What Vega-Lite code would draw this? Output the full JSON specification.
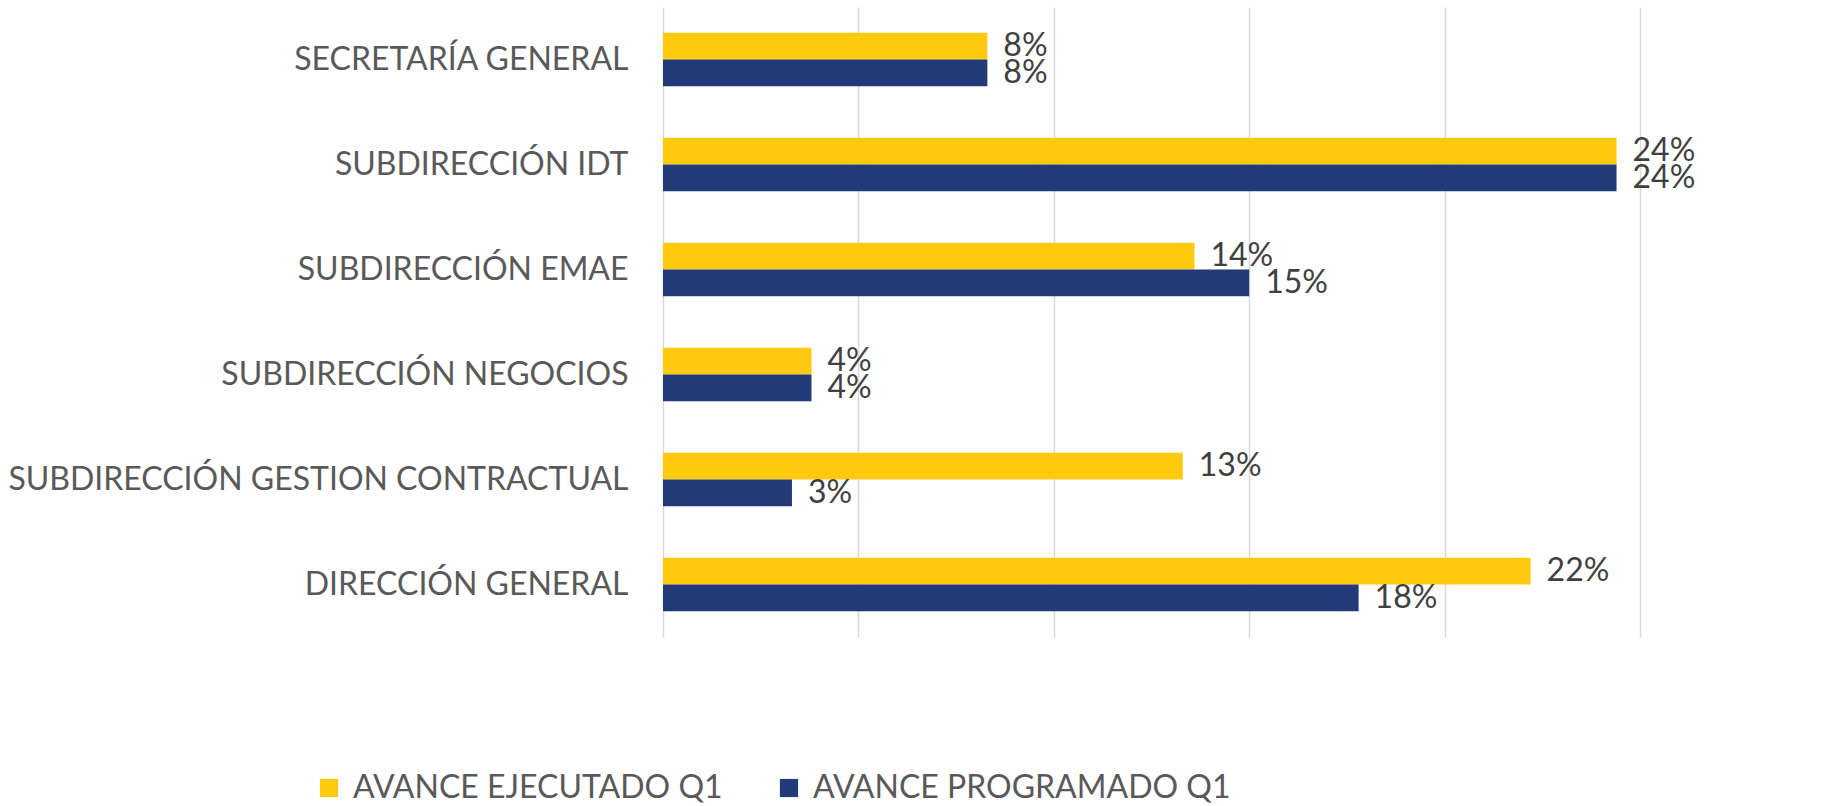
{
  "$schema": "https://vega.github.io/schema/vega-lite/v6.json",
  "width": 977,
  "height": 630,
  "autosize": {"type": "none"},
  "padding": {"left": 663, "top": 7, "right": 193, "bottom": 169},
  "background": "white",
  "config": {
    "view": {"stroke": null},
    "font": "Lato"
  },
  "data": {
    "values": [
      {"area": "SECRETARÍA GENERAL", "serie": "AVANCE EJECUTADO Q1", "valor": 0.083},
      {"area": "SECRETARÍA GENERAL", "serie": "AVANCE PROGRAMADO Q1", "valor": 0.083},
      {"area": "SUBDIRECCIÓN IDT", "serie": "AVANCE EJECUTADO Q1", "valor": 0.244},
      {"area": "SUBDIRECCIÓN IDT", "serie": "AVANCE PROGRAMADO Q1", "valor": 0.244},
      {"area": "SUBDIRECCIÓN EMAE", "serie": "AVANCE EJECUTADO Q1", "valor": 0.136},
      {"area": "SUBDIRECCIÓN EMAE", "serie": "AVANCE PROGRAMADO Q1", "valor": 0.150},
      {"area": "SUBDIRECCIÓN NEGOCIOS", "serie": "AVANCE EJECUTADO Q1", "valor": 0.038},
      {"area": "SUBDIRECCIÓN NEGOCIOS", "serie": "AVANCE PROGRAMADO Q1", "valor": 0.038},
      {"area": "SUBDIRECCIÓN GESTION CONTRACTUAL", "serie": "AVANCE EJECUTADO Q1", "valor": 0.133},
      {"area": "SUBDIRECCIÓN GESTION CONTRACTUAL", "serie": "AVANCE PROGRAMADO Q1", "valor": 0.033},
      {"area": "DIRECCIÓN GENERAL", "serie": "AVANCE EJECUTADO Q1", "valor": 0.222},
      {"area": "DIRECCIÓN GENERAL", "serie": "AVANCE PROGRAMADO Q1", "valor": 0.178}
    ]
  },
  "encoding": {
    "y": {
      "field": "area", "type": "nominal", "sort": null,
      "scale": {"paddingInner": 0.49, "paddingOuter": 0.245},
      "axis": {"title": null, "domain": false, "ticks": false, "labelFontSize": 32, "labelColor": "#595959", "labelPadding": 35, "labelLimit": 0}
    },
    "yOffset": {"field": "serie", "type": "nominal", "sort": ["AVANCE EJECUTADO Q1", "AVANCE PROGRAMADO Q1"]},
    "x": {
      "field": "valor", "type": "quantitative",
      "scale": {"domain": [0, 0.25], "nice": false},
      "axis": {"title": null, "labels": false, "ticks": false, "domain": false, "values": [0, 0.05, 0.1, 0.15, 0.2, 0.25], "gridColor": "#D9D9D9", "gridWidth": 1.5}
    }
  },
  "layer": [
    {
      "mark": {"type": "bar"},
      "encoding": {
        "color": {
          "field": "serie", "type": "nominal",
          "scale": {"domain": ["AVANCE EJECUTADO Q1", "AVANCE PROGRAMADO Q1"], "range": ["#FFC90D", "#223B78"]},
          "legend": {
            "title": null, "orient": "none", "direction": "horizontal",
            "legendX": -350, "legendY": 765,
            "symbolType": "square", "symbolSize": 330, "symbolStrokeWidth": 0,
            "labelFontSize": 32, "labelColor": "#595959", "labelLimit": 0,
            "columnPadding": 50, "labelOffset": 8
          }
        }
      }
    },
    {
      "mark": {"type": "text", "align": "left", "baseline": "middle", "dx": 16, "fontSize": 32, "color": "#404040"},
      "encoding": {
        "text": {"field": "valor", "type": "quantitative", "format": ".0%"}
      }
    }
  ]
}
